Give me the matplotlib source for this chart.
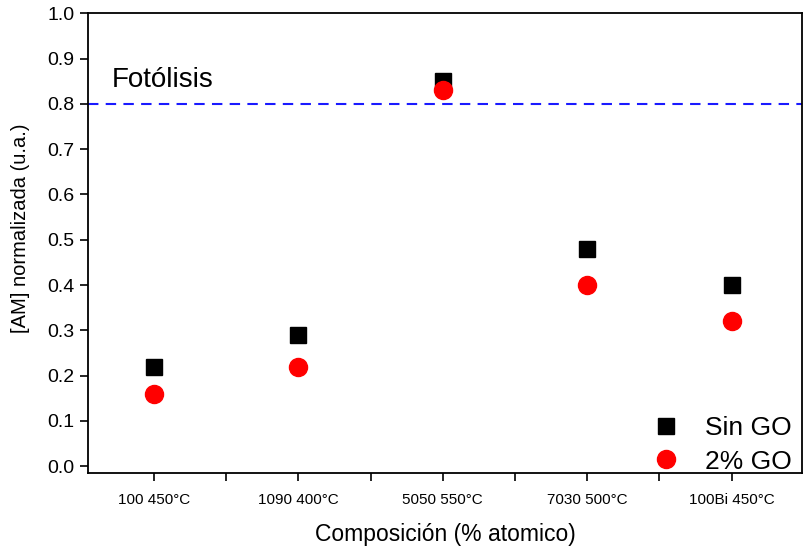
import matplotlib.pyplot as plt
import numpy as np
from matplotlib.ticker import MultipleLocator

plt.rcParams['font.family'] = ['Liberation Sans', 'DejaVu Sans']

# datos
categorias = ['100 450°C', '1090 400°C', '5050 550°C', '7030 500°C', '100Bi 450°C']
sin_go = [0.22, 0.29, 0.85, 0.48, 0.40]
go_2 = [0.16, 0.22, 0.83, 0.40, 0.32]
fotolisis = 0.80

fig = plt.figure(figsize=(8.04, 5.52), dpi=100)
ax = fig.add_axes([0.109, 0.143, 0.889, 0.833])

x = np.arange(1, len(categorias) + 1)
ax.plot(x, sin_go, 's', color='black', markersize=11, label='Sin GO', zorder=3)
ax.plot(x, go_2, 'o', color='#ff0000', markersize=13, label='2% GO', zorder=4)
ax.axhline(fotolisis, color='#1a1aff', linestyle=(0, (5, 3.5)), linewidth=1.5)
ax.text(0.71, 0.853, 'Fotólisis', fontsize=20, va='center')

ax.set_xlim(0.54, 5.49)
ax.set_ylim(-0.015, 1.0)
ax.set_xticks(x)
ax.set_xticklabels(categorias, fontsize=11)
ax.xaxis.set_minor_locator(MultipleLocator(0.5))
ax.yaxis.set_major_locator(MultipleLocator(0.1))
ax.tick_params(axis='y', labelsize=14)
ax.tick_params(axis='x', pad=8)
ax.tick_params(which='both', direction='out', width=1.2, top=False, right=False)
ax.tick_params(which='major', length=6)
ax.tick_params(which='minor', length=6)
ax.yaxis.set_major_formatter(plt.FuncFormatter(lambda v, p: f'{v:.1f}'))
for s in ax.spines.values():
    s.set_linewidth(1.3)

ax.set_xlabel('Composición (% atomico)', fontsize=16.5, labelpad=12)
ax.set_ylabel('[AM] normalizada (u.a.)', fontsize=14.5)
ax.yaxis.set_label_coords(-0.08, 0.533)

ax.legend(loc='lower right', frameon=False, fontsize=19, handlelength=1.0,
          handletextpad=0.98, borderaxespad=0.1, labelspacing=0.35,
          bbox_to_anchor=(1.004, -0.03))

fig.savefig('out.png', dpi=100)
